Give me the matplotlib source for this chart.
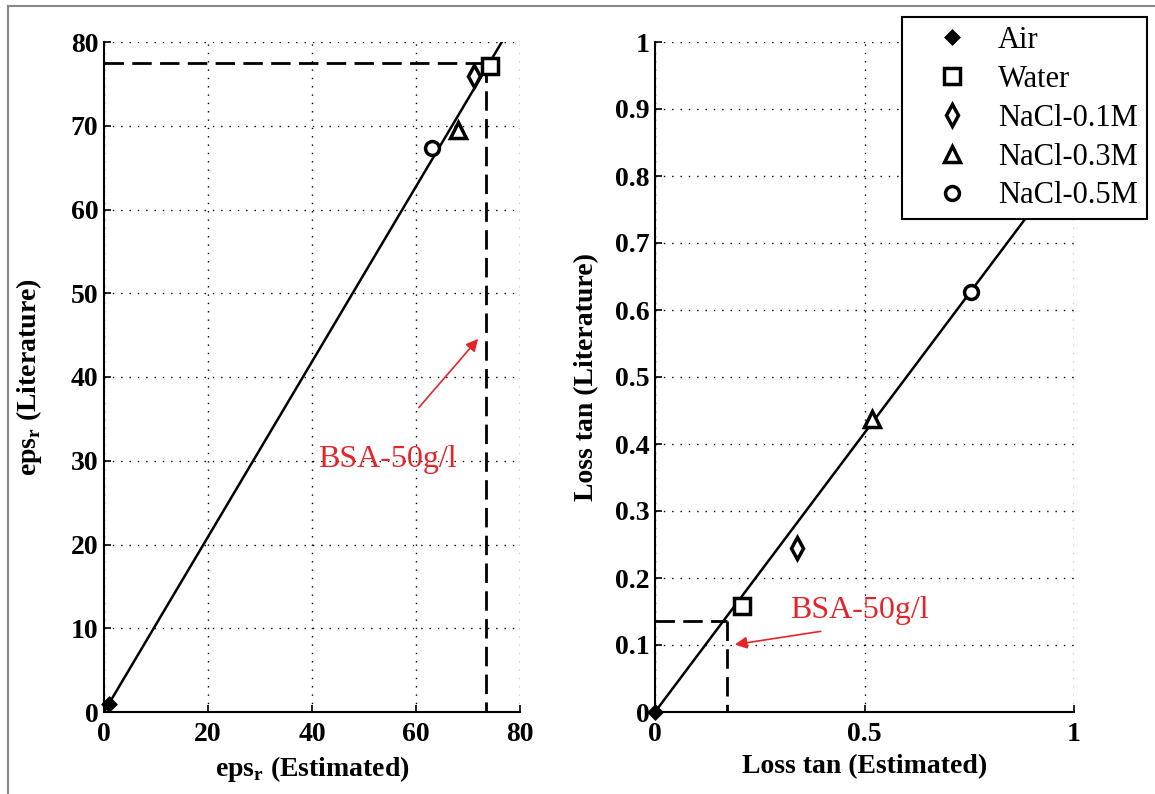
import matplotlib

matplotlib.use("Agg")
import matplotlib.pyplot as plt
from matplotlib.lines import Line2D

W, H = 1155, 794

materials = ["Air", "Water", "NaCl-0.1M", "NaCl-0.3M", "NaCl-0.5M"]

# relative permittivity
eps_est = [1.0, 74.2, 71.2, 68.1, 63.1]
eps_lit = [1.0, 77.1, 75.9, 69.5, 67.3]
eps_fit_x = [0.0, 76.5]
eps_fit_y = [0.0, 80.0]
eps_bsa_x, eps_bsa_y = 73.5, 77.5

# loss tangent
tan_est = [0.0, 0.208, 0.34, 0.517, 0.754]
tan_lit = [0.0, 0.158, 0.245, 0.437, 0.627]
tan_fit_x = [0.0, 1.0]
tan_fit_y = [0.0, 0.833]
tan_bsa_x, tan_bsa_y = 0.172, 0.136

eps_xticks = [0, 20, 40, 60, 80]
eps_yticks = list(range(0, 81, 10))
tan_xticks = [0, 0.5, 1]
tan_xlabels = ["0", "0.5", "1"]
tan_yticks = [i / 10 for i in range(11)]
tan_ylabels = ["0"] + [f"0.{i}" for i in range(1, 10)] + ["1"]

marker_styles = [
    dict(marker="D", ms=6, mfc="black"),
    dict(marker="s", ms=11, mfc="white"),
    dict(marker="d", ms=11, mfc="white"),
    dict(marker="^", ms=11, mfc="white"),
    dict(marker="o", ms=10, mfc="white"),
]

plt.rcParams["font.family"] = ["Liberation Serif", "DejaVu Serif"]
plt.rcParams["mathtext.fontset"] = "custom"
plt.rcParams["mathtext.rm"] = "Liberation Serif:bold"

fig = plt.figure(figsize=(W / 100, H / 100), dpi=100)


def px_axes(x0, x1, y0, y1):
    return fig.add_axes([x0 / W, 1 - y1 / H, (x1 - x0) / W, (y1 - y0) / H])


def style_axes(ax, xt, yt, xl=None, yl=None):
    ax.set_xticks(xt)
    ax.set_yticks(yt)
    if xl is not None:
        ax.set_xticklabels(xl)
    if yl is not None:
        ax.set_yticklabels(yl)
    ax.spines["top"].set_visible(False)
    ax.spines["right"].set_visible(False)
    for s in ("left", "bottom"):
        ax.spines[s].set_linewidth(1.5)
    ax.tick_params(direction="in", length=5, width=1.2, labelsize=20)
    ax.tick_params(axis="x", pad=7)
    ax.tick_params(axis="y", pad=4)
    for lab in ax.get_xticklabels() + ax.get_yticklabels():
        lab.set_fontweight("bold")
    ax.grid(True, color="black", linestyle=(0, (1, 5)), linewidth=1.0)
    ax.set_axisbelow(True)


red = "#e5242a"
dash = (0, (7, 3))

# left: eps_r
ax1 = px_axes(104, 520, 42, 712)
ax1.set_xlim(0, 80)
ax1.set_ylim(0, 80)
style_axes(ax1, eps_xticks, eps_yticks)
ax1.plot(eps_fit_x, eps_fit_y, color="black", lw=1.8)
ax1.plot([0, eps_bsa_x], [eps_bsa_y, eps_bsa_y], color="black", lw=2, linestyle=dash)
ax1.plot([eps_bsa_x, eps_bsa_x], [eps_bsa_y, 0], color="black", lw=2, linestyle=dash)
for x, y, st in zip(eps_est, eps_lit, marker_styles):
    ax1.plot(x, y, linestyle="none", mec="black", mew=2.5, clip_on=False, **st)
ax1.set_xlabel(r"eps$_\mathrm{r}$ (Estimated)", fontsize=20, fontweight="bold", labelpad=5)
ax1.set_ylabel(r"eps$_\mathrm{r}$ (Literature)", fontsize=20, fontweight="bold", labelpad=19)
ax1.annotate("", xy=(72.3, 44.8), xytext=(60.2, 36.1),
             arrowprops=dict(arrowstyle="-|>", color=red, lw=1.2, mutation_scale=18))
ax1.text(41.2, 30.1, "BSA-50g/l", color=red, fontsize=23, va="center", ha="left")

# right: loss tangent
ax2 = px_axes(655, 1074, 42, 712)
ax2.set_xlim(0, 1)
ax2.set_ylim(0, 1)
style_axes(ax2, tan_xticks, tan_yticks, tan_xlabels, tan_ylabels)
ax2.plot(tan_fit_x, tan_fit_y, color="black", lw=1.8)
ax2.plot([0, tan_bsa_x], [tan_bsa_y, tan_bsa_y], color="black", lw=2, linestyle=dash)
ax2.plot([tan_bsa_x, tan_bsa_x], [tan_bsa_y, 0], color="black", lw=2, linestyle=dash)
handles = []
for x, y, st, name in zip(tan_est, tan_lit, marker_styles, materials):
    h, = ax2.plot(x, y, linestyle="none", mec="black", mew=2.5, clip_on=False, label=name, **st)
    handles.append(h)
ax2.set_xlabel("Loss tan (Estimated)", fontsize=20, fontweight="bold", labelpad=5)
ax2.set_ylabel("Loss tan (Literature)", fontsize=20, fontweight="bold", labelpad=11)
ax2.annotate("", xy=(0.184, 0.100), xytext=(0.402, 0.121),
             arrowprops=dict(arrowstyle="-|>", color=red, lw=1.2, mutation_scale=18))
ax2.text(0.323, 0.152, "BSA-50g/l", color=red, fontsize=23, va="center", ha="left")

leg = fig.legend(handles=handles, loc="upper left", bbox_to_anchor=(902 / W, 1 - 17 / H),
                 fontsize=22, frameon=True, fancybox=False, framealpha=1, borderpad=0.3,
                 labelspacing=0.32, handlelength=2.7, handletextpad=0.15, borderaxespad=0)
leg.get_frame().set_edgecolor("black")
leg.get_frame().set_linewidth(1.5)

# grey frame of the scanned figure
fig.add_artist(Line2D([8 / W, 8 / W], [0, 1 - 6 / H], color="#888888", lw=1.5))
fig.add_artist(Line2D([8 / W, 1], [1 - 6 / H, 1 - 6 / H], color="#888888", lw=1.5))

fig.savefig("out.png", dpi=100)
plt.close(fig)
